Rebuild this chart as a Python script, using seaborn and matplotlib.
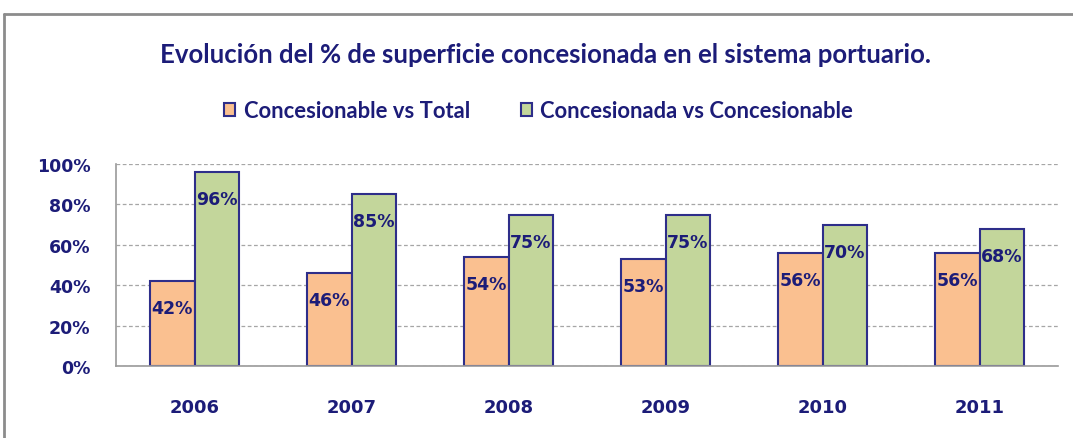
import pandas as pd
import matplotlib.pyplot as plt
import matplotlib.ticker as ticker
from matplotlib.lines import Line2D
import seaborn as sns

# =========================
# 1. datos
# =========================
years = ["2006", "2007", "2008", "2009", "2010", "2011"]
concesionable_vs_total = [42, 46, 54, 53, 56, 56]
concesionada_vs_concesionable = [96, 85, 75, 75, 70, 68]
series_names = ["Concesionable vs Total", "Concesionada vs Concesionable"]

df = pd.DataFrame({
    "año": years * 2,
    "serie": [series_names[0]] * len(years) + [series_names[1]] * len(years),
    "valor": concesionable_vs_total + concesionada_vs_concesionable,
})

navy = "#1C1C78"
edge = "#2E2E8A"
grid_gray = "#A6A6A6"
colors = ["#FAC090", "#C3D69B"]

sns.set_style("white")
plt.rcParams["font.family"] = ["DejaVu Sans"]

# =========================
# 2. gráfico
# =========================
fig = plt.figure(figsize=(10.73, 4.39), dpi=100)
ax = fig.add_axes([116 / 1073, 1 - 367 / 439, 942 / 1073, 202 / 439])

sns.barplot(data=df, x="año", y="valor", hue="serie", palette=colors,
            saturation=1, edgecolor=edge, linewidth=1.5, width=0.573,
            gap=0, ax=ax, errorbar=None)

ax.set_xlim(-0.5, len(years) - 0.5)
ax.set_ylim(0, 100)
ax.set_yticks(range(0, 101, 20))
ax.yaxis.set_major_formatter(ticker.FuncFormatter(lambda y, _: f"{int(y)}%"))
ax.set_xlabel("")
ax.set_ylabel("")

ax.grid(axis="y", color=grid_gray, linestyle=(0, (3, 2)), linewidth=0.9)
ax.set_axisbelow(True)
for side in ["top", "right"]:
    ax.spines[side].set_visible(False)
for side in ["left", "bottom"]:
    ax.spines[side].set_color("#9A9A9A")
    ax.spines[side].set_linewidth(1.2)

# ticks del eje x entre categorías
ax.set_xticks([i - 0.5 for i in range(len(years) + 1)], minor=True)
ax.tick_params(axis="x", which="major", length=0, pad=23,
               labelsize=13, labelcolor=navy)
ax.tick_params(axis="x", which="minor", length=7, color="#9A9A9A", width=1.2)
ax.tick_params(axis="y", length=6.5, color="#9A9A9A", width=1.2, pad=12,
               labelsize=12.5, labelcolor=navy)
for lab in ax.get_xticklabels() + ax.get_yticklabels():
    lab.set_fontweight("bold")

# etiquetas de datos
for container in ax.containers:
    for bar in container:
        ax.annotate(f"{bar.get_height():.0f}%",
                    (bar.get_x() + bar.get_width() / 2, bar.get_height()),
                    xytext=(0, -27), textcoords="offset pixels",
                    ha="center", va="center", fontsize=12.5,
                    fontweight="bold", color=navy)

# leyenda arriba
handles, labels = ax.get_legend_handles_labels()
ax.legend_.remove()
fig.legend(handles, labels, loc="center", bbox_to_anchor=(0.502, 1 - 112 / 439),
           ncol=2, frameon=False, handlelength=0.5, handleheight=0.55,
           handletextpad=0.4, columnspacing=2.3,
           prop={"family": "Lato", "weight": "bold", "size": 15.8},
           labelcolor=navy)

fig.text(0.508, 1 - 55 / 439,
         "Evolución del % de superficie concesionada en el sistema portuario.",
         ha="center", va="center", fontsize=18.5, color=navy,
         family="Lato", fontweight="bold")

# marco gris
fig.add_artist(Line2D([4 / 1073, 4 / 1073], [0, 1 - 15 / 439],
                      transform=fig.transFigure, color="#8C8C8C", lw=2))
fig.add_artist(Line2D([4 / 1073, 1], [1 - 15 / 439, 1 - 15 / 439],
                      transform=fig.transFigure, color="#8C8C8C", lw=2))

plt.savefig("out.png", dpi=100)
